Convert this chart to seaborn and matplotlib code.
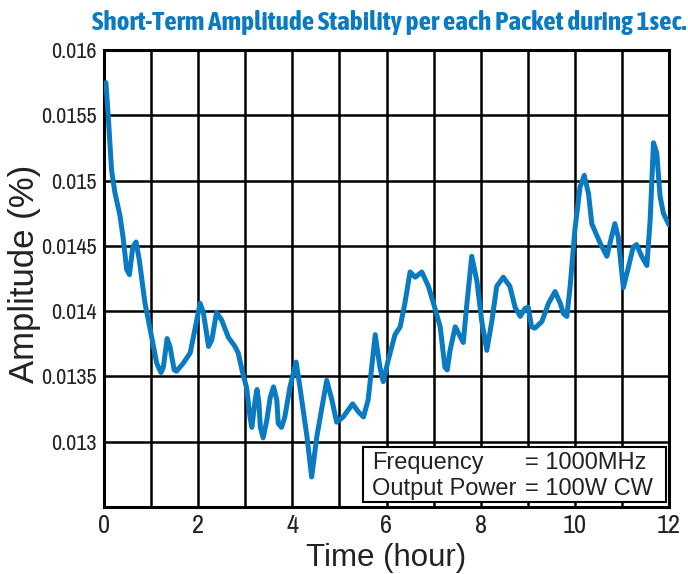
import matplotlib
matplotlib.use("Agg")
import matplotlib.pyplot as plt
import matplotlib.patches as mpatches
from matplotlib import font_manager
import seaborn as sns
import pandas as pd

# Data
hours = [0.04, 0.09, 0.16, 0.23, 0.34, 0.41, 0.48, 0.54, 0.61, 0.68, 0.75, 0.87,
         0.98, 1.12, 1.21, 1.26, 1.34, 1.40, 1.49, 1.54, 1.68, 1.83, 1.93, 2.04,
         2.11, 2.22, 2.29, 2.39, 2.50, 2.64, 2.78, 2.85, 2.93, 3.03, 3.10, 3.14,
         3.21, 3.25, 3.29, 3.32, 3.38, 3.46, 3.53, 3.60, 3.67, 3.70, 3.77, 3.84,
         3.95, 4.08, 4.16, 4.31, 4.41, 4.52, 4.73, 4.84, 4.94, 5.08, 5.28, 5.40,
         5.51, 5.61, 5.76, 5.86, 5.93, 6.04, 6.18, 6.29, 6.39, 6.50, 6.61, 6.75,
         6.89, 7.03, 7.14, 7.24, 7.29, 7.35, 7.46, 7.53, 7.63, 7.70, 7.81, 7.92,
         8.02, 8.13, 8.24, 8.34, 8.48, 8.62, 8.73, 8.84, 8.94, 9.01, 9.08, 9.15,
         9.30, 9.44, 9.58, 9.69, 9.76, 9.83, 9.90, 10.00, 10.11, 10.20, 10.29, 10.36,
         10.43, 10.54, 10.68, 10.78, 10.85, 10.92, 11.03, 11.14, 11.24, 11.31, 11.42, 11.53,
         11.60, 11.67, 11.74, 11.81, 11.88, 12.00]
amplitude = [0.01575, 0.01549, 0.01508, 0.01491, 0.01473, 0.01455, 0.01432, 0.01428,
             0.01449, 0.01453, 0.01439, 0.01406, 0.01386, 0.01360, 0.01353, 0.01357,
             0.01379, 0.01373, 0.01355, 0.01354, 0.01360, 0.01368, 0.01386, 0.01406,
             0.01399, 0.01373, 0.01378, 0.01399, 0.01393, 0.01380, 0.01373, 0.01368,
             0.01355, 0.01341, 0.01319, 0.01311, 0.01332, 0.01340, 0.01330, 0.01311,
             0.01303, 0.01317, 0.01334, 0.01342, 0.01332, 0.01314, 0.01311, 0.01319,
             0.01342, 0.01361, 0.01342, 0.01304, 0.01273, 0.01304, 0.01347, 0.01332,
             0.01315, 0.01319, 0.01329, 0.01323, 0.01319, 0.01332, 0.01382, 0.01357,
             0.01346, 0.01363, 0.01382, 0.01388, 0.01406, 0.01430, 0.01426, 0.01430,
             0.01419, 0.01402, 0.01388, 0.01357, 0.01355, 0.01370, 0.01388, 0.01383,
             0.01376, 0.01403, 0.01442, 0.01423, 0.01393, 0.01370, 0.01393, 0.01419,
             0.01426, 0.01419, 0.01403, 0.01396, 0.01402, 0.01403, 0.01388, 0.01387,
             0.01392, 0.01406, 0.01415, 0.01406, 0.01398, 0.01396, 0.01419, 0.01462,
             0.01495, 0.01504, 0.01490, 0.01467, 0.01461, 0.01452, 0.01442, 0.01457,
             0.01467, 0.01457, 0.01418, 0.01434, 0.01449, 0.01451, 0.01442, 0.01435,
             0.01470, 0.01529, 0.01521, 0.01488, 0.01475, 0.01466]

x_ticks = list(range(0, 13))
x_tick_labels = ["0", "", "2", "", "4", "", "6", "", "8", "", "10", "", "12"]
y_ticks = [0.0125, 0.013, 0.0135, 0.014, 0.0145, 0.015, 0.0155, 0.016]
y_tick_labels = ["", "0.013", "0.0135", "0.014", "0.0145", "0.015", "0.0155", "0.016"]

info_names = ["Frequency", "Output Power"]
info_values = ["= 1000MHz", "= 100W CW"]

BLUE = "#0a7bc2"
TEXT = "#222222"


def weight_num(w):
    if isinstance(w, str):
        return font_manager.weight_dict.get(w, 400)
    return w


# look for a condensed face (regular + bold); otherwise fall back to Liberation Sans
entries = [f for f in font_manager.fontManager.ttflist
           if "Condensed" in f.name or "Narrow" in f.name
           or f.stretch in ("condensed", "semi-condensed", "extra-condensed")]
reg = [f for f in entries if 350 <= weight_num(f.weight) <= 450 and f.style == "normal"]
bold = [f for f in entries if 600 <= weight_num(f.weight) <= 750 and f.style == "normal"]
reg.sort(key=lambda f: f.name)
bold.sort(key=lambda f: f.name)

if reg:
    tick_fp = dict(fontproperties=font_manager.FontProperties(fname=reg[0].fname))
else:
    tick_fp = dict(family=["Liberation Sans", "DejaVu Sans"])
if bold:
    title_fp = font_manager.FontProperties(fname=bold[0].fname, size=19.6)
else:
    title_fp = font_manager.FontProperties(family="Liberation Sans", weight="bold", size=16)

sns.set_style("white")
plt.rcParams["font.family"] = ["Liberation Sans", "DejaVu Sans"]

df = pd.DataFrame({"hour": hours, "amp": amplitude})

fig = plt.figure(figsize=(6.88, 5.74), dpi=100)
ax = fig.add_axes([0.1512, 0.1167, 0.8212, 0.7962])

sns.lineplot(data=df, x="hour", y="amp", estimator=None, color=BLUE,
             linewidth=3.6, ax=ax, zorder=3)
ax.lines[0].set_solid_joinstyle("round")
ax.lines[0].set_solid_capstyle("round")

ax.set_xlim(0, 12)
ax.set_ylim(0.0125, 0.016)
ax.set_xticks(x_ticks)
ax.set_xticklabels(x_tick_labels, color=TEXT, **tick_fp)
ax.set_yticks(y_ticks)
ax.set_yticklabels(y_tick_labels, color=TEXT, **tick_fp)
for lab in ax.get_xticklabels():
    lab.set_fontsize(19)
for lab in ax.get_yticklabels():
    lab.set_fontsize(16)
ax.tick_params(axis="x", length=0, pad=5)
ax.tick_params(axis="y", length=0, pad=5)
ax.grid(True, color="black", linewidth=1.8, zorder=1)
ax.set_axisbelow(True)
for s in ax.spines.values():
    s.set_color("black")
    s.set_linewidth(2.2)

ax.set_xlabel("Time (hour)", fontsize=22.5, labelpad=4, color=TEXT)
ax.set_ylabel("Amplitude (%)", fontsize=25, color=TEXT)
ax.yaxis.set_label_coords(-0.111, 0.51)
fig.text(0.5654, 0.947, "Short-Term Amplitude Stability per each Packet during 1sec.",
         fontproperties=title_fp, color=BLUE, ha="center", va="baseline")

# info box
box = mpatches.Rectangle((0.458, 0.011), 0.536, 0.12, transform=ax.transAxes,
                         facecolor="white", edgecolor="black", linewidth=1.5, zorder=4)
ax.add_patch(box)
for name, value, yy in zip(info_names, info_values, [0.083, 0.026]):
    ax.text(0.474, yy, name, transform=ax.transAxes, fontsize=17,
            va="baseline", ha="left", zorder=5, color=TEXT)
    ax.text(0.745, yy, value, transform=ax.transAxes, fontsize=17,
            va="baseline", ha="left", zorder=5, color=TEXT)

plt.savefig("out.png", dpi=100)
